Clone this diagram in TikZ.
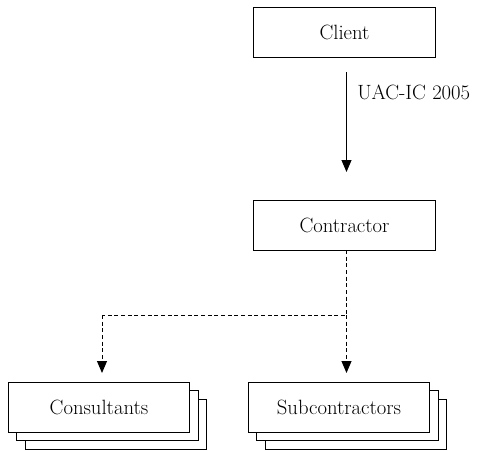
\documentclass[tikz,border=0pt]{standalone}
\usetikzlibrary{arrows.meta,positioning}
\begin{document}
\begin{tikzpicture}[x=0.75pt,y=-0.75pt,
  box/.style={draw,line width=0.75pt,fill=white,minimum width=136pt,minimum height=37.5pt,inner sep=0pt,font=\fontsize{15.5}{18}\selectfont},
  layer/.style={draw,line width=0.75pt,fill=white,minimum width=136pt,minimum height=37.5pt,inner sep=0pt},
  tip/.style={-{Triangle[width=7.5pt,length=9pt]}},
  link/.style={line width=0.75pt},
  dlink/.style={line width=0.75pt,dash pattern=on 3pt off 2pt}]
\useasboundingbox (0,0) rectangle (485,450);

% top of the chain
\node[box] (client) at (344.5,32) {Client};
\node[box] (contractor) at (344.5,225.5) {Contractor};

% stacked sheets for the lower parties
\node[layer] (cons3) at (116,424) {};
\node[layer] (cons2) at (107.5,415.5) {};
\node[box] (cons) at (99,407) {Consultants};
\node[layer] (sub3) at (356,424) {};
\node[layer] (sub2) at (347.5,415.5) {};
\node[box] (sub) at (339,407) {Subcontractors};

% contract link
\coordinate (a1) at (346.5,72);
\coordinate (a2) at (346.5,172);
\draw[link,tip] (a1) -- (a2);
\node[anchor=west,inner sep=0pt,font=\fontsize{15.5}{18}\selectfont] (lbl) at (357,92) {UAC-IC 2005};

% dashed links down to the lower parties
\coordinate (d0) at (346.5,250);
\coordinate (d1) at (346.5,315);
\coordinate (d2) at (102,315);
\coordinate (t1) at (102,373);
\coordinate (t2) at (346.5,373);
\draw[dlink] (d0) -- (d1) -- (d2);
\draw[dlink,tip] (d2) -- (t1);
\draw[dlink,tip] (d1) -- (t2);
\end{tikzpicture}
\end{document}
